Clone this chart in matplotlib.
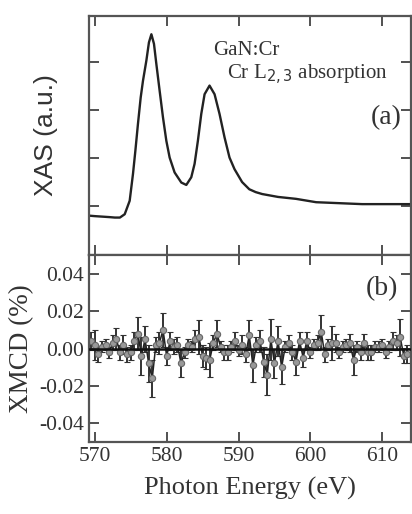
import matplotlib
matplotlib.use("Agg")
import matplotlib.pyplot as plt
import numpy as np

plt.rcParams['axes.unicode_minus'] = False
plt.rcParams['font.family'] = ['Liberation Serif', 'DejaVu Serif']

# XAS curve (energy in eV, intensity in a.u.)
xas_energy = [569.2, 570.0, 571.0, 572.0, 572.8, 573.5, 574.17, 574.86, 575.32, 575.65,
              576.01, 576.39, 576.71, 577.18, 577.54, 577.88, 578.24, 578.57, 579.03, 579.49,
              579.96, 580.42, 581.11, 582.04, 582.74, 583.43, 583.89, 584.35, 584.82, 585.28,
              585.97, 586.67, 587.36, 588.06, 588.75, 589.44, 590.5, 591.5, 592.4, 593.3,
              595.5, 598.0, 600.8, 604.0, 607.2, 610.0, 614.0]
xas_intensity = [0.80, 0.79, 0.78, 0.77, 0.76, 0.76, 0.83, 1.11, 1.67, 2.15,
                 2.71, 3.26, 3.61, 4.03, 4.41, 4.58, 4.38, 3.96, 3.40, 2.85,
                 2.36, 2.01, 1.70, 1.49, 1.44, 1.60, 1.88, 2.36, 2.92, 3.33,
                 3.51, 3.33, 2.92, 2.43, 2.01, 1.77, 1.50, 1.35, 1.29, 1.25,
                 1.19, 1.15, 1.08, 1.06, 1.04, 1.04, 1.04]

# XMCD data (%), with error bars
xmcd_energy = [569.5 + 0.5 * i for i in range(89)]
xmcd_value = [0.004, 0.002, -0.003, 0.001, 0.002, -0.002, 0.003, 0.005, -0.002, 0.002,
              -0.003, -0.002, 0.004, 0.008, -0.004, 0.005, -0.008, -0.016, 0.002, 0.003,
              0.010, -0.004, 0.004, 0.001, 0.002, -0.008, -0.002, 0.002, 0.001, 0.005,
              0.006, -0.004, -0.005, -0.006, 0.003, 0.008, 0.001, -0.002, -0.002, 0.001,
              0.004, -0.001, 0.002, -0.003, 0.007, -0.009, 0.002, 0.004, -0.007, -0.014,
              0.005, -0.008, 0.004, -0.010, 0.001, 0.003, -0.002, -0.007, 0.004, -0.005,
              0.004, -0.002, 0.002, 0.003, 0.009, -0.003, 0.002, 0.003, 0.003, -0.002,
              0.001, 0.002, 0.003, -0.006, 0.001, -0.002, 0.003, -0.002, -0.002, 0.001,
              0.001, 0.002, -0.002, 0.001, 0.004, 0.003, 0.006, -0.004, -0.003]
xmcd_error = [0.005, 0.008, 0.004, 0.003, 0.003, 0.003, 0.004, 0.006, 0.004, 0.005,
              0.004, 0.004, 0.005, 0.009, 0.010, 0.007, 0.010, 0.010, 0.004, 0.006,
              0.009, 0.005, 0.005, 0.004, 0.004, 0.007, 0.003, 0.003, 0.003, 0.005,
              0.009, 0.006, 0.006, 0.009, 0.004, 0.007, 0.003, 0.004, 0.004, 0.003,
              0.005, 0.003, 0.005, 0.004, 0.008, 0.009, 0.004, 0.006, 0.008, 0.011,
              0.011, 0.008, 0.008, 0.009, 0.003, 0.004, 0.004, 0.007, 0.005, 0.005,
              0.005, 0.003, 0.003, 0.004, 0.009, 0.004, 0.003, 0.009, 0.005, 0.003,
              0.003, 0.003, 0.005, 0.008, 0.003, 0.004, 0.005, 0.004, 0.004, 0.003,
              0.003, 0.003, 0.003, 0.003, 0.005, 0.004, 0.010, 0.004, 0.005]

x_ticks = [570, 580, 590, 600, 610]
xmcd_ticks = [-0.04, -0.02, 0.00, 0.02, 0.04]
xas_ticks = [1, 2, 3, 4]

fig = plt.figure(figsize=(4.12, 5.14), dpi=100)
ax1 = fig.add_axes([89/412, 1-255/514, 322/412, 239/514])
ax2 = fig.add_axes([89/412, 1-442/514, 322/412, 187/514])

frame_col = '#555555'
for ax in (ax1, ax2):
    for s in ax.spines.values():
        s.set_linewidth(1.6)
        s.set_color(frame_col)
    ax.tick_params(direction='in', top=True, right=True, length=7, width=1.2,
                   color='#333333', labelsize=15.5, labelcolor='#333333')
    ax.set_xlim(569.2, 614.0)
    ax.set_xticks(x_ticks)

# top panel
ax1.plot(xas_energy, xas_intensity, color='#222222', lw=1.7, solid_joinstyle='round')
ax1.set_ylim(-0.02, 4.96)
ax1.set_yticks(xas_ticks)
ax1.tick_params(labelleft=False, labelbottom=False)
ax1.set_ylabel('XAS (a.u.)', family=['Liberation Sans', 'DejaVu Sans'], fontsize=19,
               color='#333333', labelpad=22)
ax1.text(0.385, 0.855, 'GaN:Cr', transform=ax1.transAxes, fontsize=15, color='#333333',
         ha='left', va='center')
ax1.text(0.43, 0.755, r'Cr L$_{2,3}$ absorption', transform=ax1.transAxes, fontsize=15,
         color='#333333', ha='left', va='center')
ax1.text(0.97, 0.575, '(a)', transform=ax1.transAxes, fontsize=20, color='#333333',
         ha='right', va='center')

# bottom panel
ax2.axhline(0.0, color='#111111', lw=1.8, zorder=3)
ax2.errorbar(xmcd_energy, xmcd_value, yerr=xmcd_error, fmt='-o', color='#222222',
             lw=1.1, ms=4.5, mfc='#999999', mec='#666666', mew=0.8,
             ecolor='#333333', elinewidth=1.4, capsize=2.5, capthick=1.2, zorder=2)
ax2.set_ylim(-0.05, 0.05)
ax2.set_yticks(xmcd_ticks)
ax2.set_yticklabels(['%.2f' % t for t in xmcd_ticks])
ax2.set_ylabel('XMCD (%)', fontsize=19.5, color='#333333', labelpad=4)
ax2.set_xlabel('Photon Energy (eV)', fontsize=19, color='#333333', labelpad=8)
ax2.text(0.96, 0.82, '(b)', transform=ax2.transAxes, fontsize=20, color='#333333',
         ha='right', va='center')

fig.savefig('out.png', dpi=100)
